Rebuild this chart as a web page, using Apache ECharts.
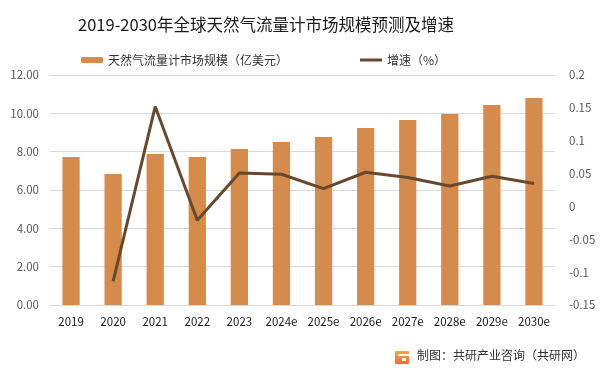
<!DOCTYPE html>
<html><head><meta charset="utf-8">
<script src="https://cdn.jsdelivr.net/npm/echarts@6/dist/echarts.min.js"></script>
<style>html,body{margin:0;padding:0;background:#fff}#c{width:600px;height:374px}</style>
</head><body><div id="c"></div>
<script>
var categories = ['2019','2020','2021','2022','2023','2024e','2025e','2026e','2027e','2028e','2029e','2030e'];
var marketSize = [7.72, 6.84, 7.88, 7.72, 8.14, 8.50, 8.77, 9.23, 9.65, 9.96, 10.43, 10.80];
var growth = [null, -0.114, 0.152, -0.021, 0.051, 0.049, 0.027, 0.052, 0.044, 0.031, 0.046, 0.035];
var seriesNames = ['天然气流量计市场规模（亿美元）', '增速（%）'];
var titleText = '2019-2030年全球天然气流量计市场规模预测及增速';
var sourceText = '制图：共研产业咨询（共研网）';

var chart = echarts.init(document.getElementById('c'), null, {renderer: 'canvas'});
var font = '"Microsoft YaHei","Noto Sans CJK SC","Noto Sans",sans-serif';
chart.setOption({
  animation: false,
  backgroundColor: '#fff',
  textStyle: {fontFamily: font},
  title: {
    text: titleText, left: 73, top: 11,
    textStyle: {fontSize: 16.5, fontWeight: 'normal', color: '#1a1a1a', fontFamily: font}
  },
  legend: [
    {data: [seriesNames[0]], left: 76, top: 49, itemWidth: 22, itemHeight: 6, itemGap: 6,
     textStyle: {fontSize: 12, color: '#333'}},
    {data: [{name: seriesNames[1], icon: 'rect'}], left: 355, top: 49, itemWidth: 22, itemHeight: 3,
     textStyle: {fontSize: 12, color: '#333'}}
  ],
  grid: {left: 50, right: 45, top: 75, bottom: 69},
  xAxis: {
    type: 'category', data: categories,
    axisLine: {lineStyle: {color: '#d9d9d9'}},
    axisTick: {show: false},
    axisLabel: {color: '#1a1a1a', fontSize: 11.5, margin: 11, interval: 0}
  },
  yAxis: [
    {type: 'value', min: 0, max: 12, interval: 2,
     axisLine: {show: false}, axisTick: {show: false},
     splitLine: {lineStyle: {color: '#d9d9d9'}},
     axisLabel: {color: '#595959', fontSize: 11.5, margin: 11, formatter: function(v){return v.toFixed(2);}}},
    {type: 'value', min: -0.15, max: 0.2, interval: 0.05,
     axisLine: {show: false}, axisTick: {show: false}, splitLine: {show: false},
     axisLabel: {color: '#595959', fontSize: 11.5, margin: 14, formatter: function(v){return String(parseFloat(v.toFixed(2)));}}}
  ],
  series: [
    {name: seriesNames[0], type: 'bar', data: marketSize, barWidth: '41%',
     itemStyle: {color: '#D48B4C'}},
    {name: seriesNames[1], type: 'line', yAxisIndex: 1, data: growth,
     symbol: 'none', connectNulls: false,
     lineStyle: {color: '#694830', width: 3}, itemStyle: {color: '#694830'}}
  ],
  graphic: [
    {type: 'group', left: 395, top: 351, children: [
      {type: 'rect', shape: {x: 0, y: 0, width: 14, height: 13, r: 1},
       style: {fill: new echarts.graphic.LinearGradient(0, 0, 0, 1, [{offset: 0, color: '#F7A541'}, {offset: 1, color: '#EE6E3A'}])}},
      {type: 'rect', shape: {x: 3, y: 3, width: 11, height: 2}, style: {fill: '#fff'}},
      {type: 'rect', shape: {x: 7, y: 7, width: 4, height: 3}, style: {fill: '#fff'}}
    ]},
    {type: 'text', left: 417, top: 349,
     style: {text: sourceText, fontSize: 12, fill: '#333', fontFamily: font}}
  ]
});
</script></body></html>
